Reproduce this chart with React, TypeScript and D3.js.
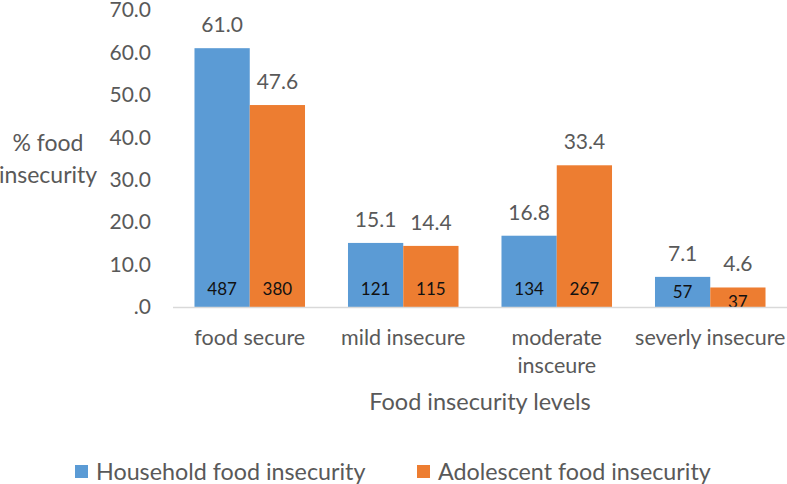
import * as d3 from "d3"

const categories = ["food secure", "mild insecure", "moderate insceure", "severly insecure"]
const seriesNames = ["Household food insecurity", "Adolescent food insecurity"]
const householdPct = [61.0, 15.1, 16.8, 7.1]
const adolescentPct = [47.6, 14.4, 33.4, 4.6]
const householdN = [487, 121, 134, 57]
const adolescentN = [380, 115, 267, 37]
const yTicks = [0, 10, 20, 30, 40, 50, 60, 70]

const colors = ["#5B9BD5", "#ED7D31"]
const textColor = "#595959"
const font = "Lato, 'Open Sans', sans-serif"

// category label lines (wrapped like the original)
const categoryLines = [["food secure"], ["mild insecure"], ["moderate", "insceure"], ["severly insecure"]]

export default function App() {
  const W = 787
  const H = 484
  const left = 173
  const right = 787
  const baseline = 307
  const top = 10

  const x = d3.scaleBand<string>().domain(categories).range([left, right]).paddingInner(0.28).paddingOuter(0.14)
  const sub = d3.scaleBand<number>().domain([0, 1]).range([0, x.bandwidth()])
  const y = d3.scaleLinear().domain([0, 70]).range([baseline, top])

  const pct = [householdPct, adolescentPct]
  const counts = [householdN, adolescentN]
  const fmt = (v: number) => (v === 0 ? ".0" : d3.format(".1f")(v))

  return (
    <svg width={W} height={H} style={{ position: "absolute", left: 0, top: 0, background: "#fff" }} fontFamily={font}>
      {/* y tick labels */}
      {yTicks.map((t) => (
        <text key={t} x={151} y={y(t)} dy="0.35em" textAnchor="end" fontSize={21} fill={textColor}>
          {fmt(t)}
        </text>
      ))}
      {/* y axis title */}
      <text x={48} y={143} dy="0.35em" textAnchor="middle" fontSize={23} fill={textColor}>% food</text>
      <text x={48} y={175} dy="0.35em" textAnchor="middle" fontSize={23} fill={textColor}>insecurity</text>

      {/* bars */}
      {categories.map((c, i) => (
        <g key={c}>
          {[0, 1].map((s) => {
            const bx = (x(c) ?? 0) + (sub(s) ?? 0)
            const bw = sub.bandwidth()
            const v = pct[s][i]
            const by = y(v)
            const ny = Math.max(baseline - 18, by + 15)
            return (
              <g key={s}>
                <rect x={bx} y={by} width={bw} height={baseline - by} fill={colors[s]} />
                <text x={bx + bw / 2} y={by - 16} textAnchor="middle" fontSize={21} fill={textColor}>
                  {d3.format(".1f")(v)}
                </text>
                <text x={bx + bw / 2} y={ny} dy="0.35em" textAnchor="middle" fontSize={17} fill="#111">
                  {counts[s][i]}
                </text>
              </g>
            )
          })}
        </g>
      ))}

      {/* x axis line */}
      <line x1={left} x2={right} y1={baseline + 0.5} y2={baseline + 0.5} stroke="#D9D9D9" strokeWidth={1.5} />

      {/* category labels */}
      {categories.map((c, i) => (
        <text key={c} x={(x(c) ?? 0) + x.bandwidth() / 2} textAnchor="middle" fontSize={21.5} fill={textColor}>
          {categoryLines[i].map((line, k) => (
            <tspan key={k} x={(x(c) ?? 0) + x.bandwidth() / 2} y={337 + k * 28} dy="0.35em">
              {line}
            </tspan>
          ))}
        </text>
      ))}

      {/* x axis title */}
      <text x={480} y={402} dy="0.35em" textAnchor="middle" fontSize={23.5} fill={textColor}>
        Food insecurity levels
      </text>

      {/* legend */}
      {seriesNames.map((name, s) => {
        const lx = s === 0 ? 75 : 417
        return (
          <g key={name}>
            <rect x={lx} y={465} width={13} height={13} fill={colors[s]} />
            <text x={lx + 21} y={472} dy="0.35em" fontSize={23.3} fill={textColor}>
              {name}
            </text>
          </g>
        )
      })}
    </svg>
  )
}
